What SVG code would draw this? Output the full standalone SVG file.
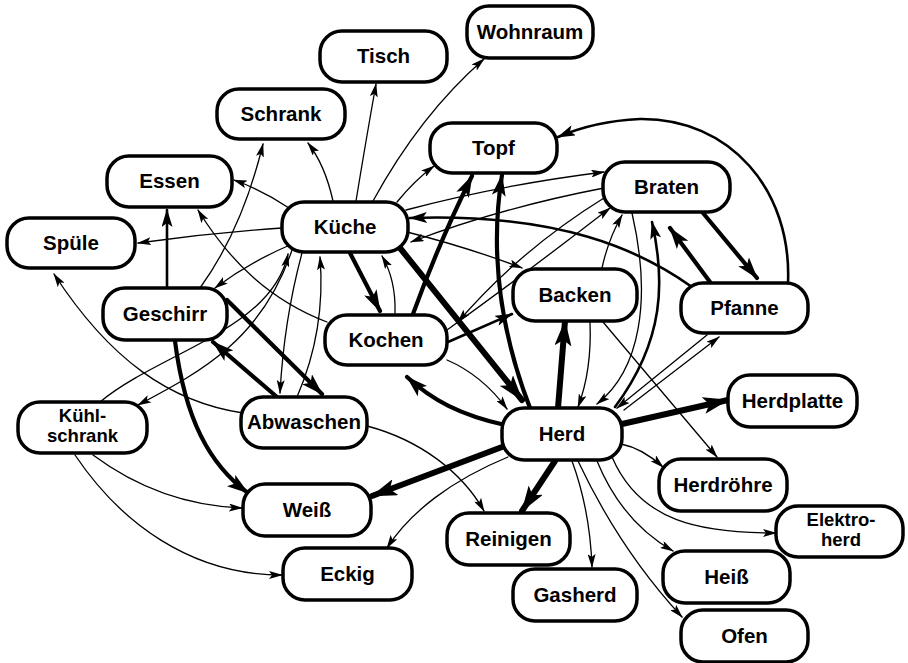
<svg xmlns="http://www.w3.org/2000/svg" width="908" height="663" viewBox="0 0 908 663">
  <style>
    .node rect { fill: #ffffff; stroke: #000000; stroke-width: 3.5; }
    .node text { font-family: "Liberation Sans", Arial, sans-serif; font-weight: bold; font-size: 20.5px; fill: #000000; text-anchor: middle; }
    .node text.two { font-size: 18.5px; }
    .e { fill: none; stroke: #000000; stroke-linecap: round; }
    .t1 { stroke-width: 1.3; marker-end: url(#a1); }
    .t2 { stroke-width: 2.6; marker-end: url(#a2); }
    .t3 { stroke-width: 4.2; marker-end: url(#a3); }
    .t4 { stroke-width: 6; marker-end: url(#a4); }
  </style>
  <defs>
    <marker id="a1" viewBox="0 0 14 8" refX="13" refY="4" markerWidth="14" markerHeight="8" markerUnits="userSpaceOnUse" orient="auto">
      <path d="M0,0 L14,4 L0,8 L3,4 z" fill="#000"/>
    </marker>
    <marker id="a2" viewBox="0 0 18 11" refX="17" refY="5.5" markerWidth="18" markerHeight="11" markerUnits="userSpaceOnUse" orient="auto">
      <path d="M0,0 L18,5.5 L0,11 L4,5.5 z" fill="#000"/>
    </marker>
    <marker id="a3" viewBox="0 0 22 14" refX="21" refY="7" markerWidth="22" markerHeight="14" markerUnits="userSpaceOnUse" orient="auto">
      <path d="M0,0 L22,7 L0,14 L5,7 z" fill="#000"/>
    </marker>
    <marker id="a4" viewBox="0 0 26 17" refX="25" refY="8.5" markerWidth="26" markerHeight="17" markerUnits="userSpaceOnUse" orient="auto">
      <path d="M0,0 L26,8.5 L0,17 L6,8.5 z" fill="#000"/>
    </marker>
  </defs>

  <!-- connectors -->
  <g id="connectors">
    <!-- Küche -->
    <path class="e t1" d="M356,201 Q366,140 376,84"/>
    <path class="e t1" d="M333,201 Q325,165 308,143"/>
    <path class="e t1" d="M373,201 Q420,115 484,59"/>
    <path class="e t1" d="M289,208 Q262,190 234,180"/>
    <path class="e t1" d="M282,228 Q210,233 138,243"/>
    <path class="e t1" d="M397,202 Q415,180 434,166"/>
    <path class="e t1" d="M406,210 Q500,185 604,172"/>
    <path class="e t2" d="M692,287 C640,250 560,213 410,218"/>
    <path class="e t1" d="M604,188 Q500,208 411,242"/>
    <path class="e t1" d="M407,232 Q470,248 522,268"/>
    <path class="e t1" d="M290,245 Q250,262 215,288"/>
    <path class="e t1" d="M292,250 C262,340 200,372 138,405"/>
    <path class="e t1" d="M100,402 C160,352 272,330 288,254"/>
    <path class="e t1" d="M302,253 Q284,320 280,393"/>
    <path class="e t1" d="M297,397 Q326,330 320,257"/>
    <path class="e t3" d="M350,253 L380,311"/>
    <path class="e t1" d="M395,313 Q396,280 382,256"/>
    <path class="e t4" d="M400,248 L522,400"/>
    <!-- Essen / Geschirr / Abwaschen -->
    <path class="e t2" d="M167,288 L167,210"/>
    <path class="e t1" d="M327,322 C270,300 230,262 198,210"/>
    <path class="e t1" d="M200,288 Q242,230 263,144"/>
    <path class="e t1" d="M243,413 C170,402 110,360 54,274"/>
    <path class="e t3" d="M277,397 L213,342"/>
    <path class="e t3" d="M227,300 L322,394"/>
    <path class="e t3" d="M175,341 C185,420 210,465 248,493"/>
    <path class="e t1" d="M93,455 C140,490 190,506 242,508"/>
    <path class="e t1" d="M75,455 C120,522 190,575 282,575"/>
    <path class="e t1" d="M367,426 C420,440 462,472 484,511"/>
    <!-- Herd outgoing -->
    <path class="e t4" d="M502,447 L372,496"/>
    <path class="e t1" d="M508,457 C452,480 410,512 387,548"/>
    <path class="e t4" d="M555,461 L522,511"/>
    <path class="e t1" d="M572,461 Q590,510 592,567"/>
    <path class="e t1" d="M578,461 Q620,550 682,617"/>
    <path class="e t1" d="M597,461 Q622,522 673,551"/>
    <path class="e t1" d="M612,457 C640,522 700,533 776,533"/>
    <path class="e t1" d="M621,444 Q642,448 663,467"/>
    <path class="e t4" d="M622,424 L728,400"/>
    <path class="e t1" d="M624,410 L719,337"/>
    <path class="e t1" d="M707,335 L617,408"/>
    <path class="e t4" d="M558,408 L565,321"/>
    <path class="e t1" d="M590,322 Q592,370 578,407"/>
    <path class="e t3" d="M530,408 C500,330 490,250 502,175"/>
    <path class="e t3" d="M505,425 C460,415 432,400 407,377"/>
    <path class="e t1" d="M447,360 Q482,375 507,409"/>
    <!-- Backen / Braten / Pfanne -->
    <path class="e t1" d="M603,322 L717,457"/>
    <path class="e t1" d="M632,213 C652,300 640,370 597,404"/>
    <path class="e t2" d="M615,407 C665,340 665,280 652,222"/>
    <path class="e t1" d="M602,268 Q608,240 622,215"/>
    <path class="e t3" d="M710,282 L670,228"/>
    <path class="e t3" d="M703,213 L757,278"/>
    <path class="e t2" d="M788,283 C792,190 730,118 640,119 Q595,121 558,137"/>
    <!-- Kochen -->
    <path class="e t2" d="M448,342 L512,314"/>
    <path class="e t3" d="M413,314 Q440,240 472,176"/>
    <path class="e t1" d="M604,198 Q520,250 458,322"/>
    <path class="e t1" d="M447,330 Q530,270 610,208"/>
  </g>

  <!-- nodes -->
  <g id="n-tisch" class="node"><rect x="320" y="31" width="127" height="51" rx="22"/><text x="383.5" y="63">Tisch</text></g>
  <g id="n-wohnraum" class="node"><rect x="467" y="6" width="126" height="52" rx="22"/><text x="530" y="39">Wohnraum</text></g>
  <g id="n-schrank" class="node"><rect x="217" y="89" width="128" height="50" rx="22"/><text x="281" y="121">Schrank</text></g>
  <g id="n-essen" class="node"><rect x="107" y="156" width="125" height="51" rx="22"/><text x="169.5" y="188">Essen</text></g>
  <g id="n-topf" class="node"><rect x="430" y="123" width="127" height="50" rx="22"/><text x="493.5" y="155">Topf</text></g>
  <g id="n-braten" class="node"><rect x="603" y="162" width="127" height="50" rx="22"/><text x="666.5" y="194">Braten</text></g>
  <g id="n-kueche" class="node"><rect x="282" y="202" width="126" height="50" rx="22"/><text x="345" y="234">Küche</text></g>
  <g id="n-spuele" class="node"><rect x="7" y="218" width="128" height="50" rx="22"/><text x="71" y="250">Spüle</text></g>
  <g id="n-geschirr" class="node"><rect x="103" y="288" width="124" height="52" rx="22"/><text x="165" y="321">Geschirr</text></g>
  <g id="n-kochen" class="node"><rect x="325" y="315" width="122" height="50" rx="22"/><text x="386" y="347">Kochen</text></g>
  <g id="n-backen" class="node"><rect x="513" y="269" width="124" height="52" rx="22"/><text x="575" y="302">Backen</text></g>
  <g id="n-pfanne" class="node"><rect x="681" y="283" width="127" height="50" rx="22"/><text x="744.5" y="315">Pfanne</text></g>
  <g id="n-kuehlschrank" class="node"><rect x="18" y="402" width="129" height="51" rx="22"/><text class="two" x="82.5" y="422">Kühl-</text><text class="two" x="82.5" y="442">schrank</text></g>
  <g id="n-abwaschen" class="node"><rect x="241" y="397" width="126" height="51" rx="22"/><text x="304" y="429">Abwaschen</text></g>
  <g id="n-herd" class="node"><rect x="502" y="408" width="120" height="52" rx="22"/><text x="562" y="441">Herd</text></g>
  <g id="n-herdplatte" class="node"><rect x="728" y="375" width="129" height="52" rx="22"/><text x="792.5" y="408">Herdplatte</text></g>
  <g id="n-herdroehre" class="node"><rect x="659" y="459" width="128" height="52" rx="22"/><text x="723" y="492">Herdröhre</text></g>
  <g id="n-elektroherd" class="node"><rect x="776" y="506" width="127" height="51" rx="22"/><text class="two" x="841" y="526">Elektro-</text><text class="two" x="841" y="546">herd</text></g>
  <g id="n-weiss" class="node"><rect x="243" y="484" width="128" height="52" rx="22"/><text x="307" y="517">Weiß</text></g>
  <g id="n-reinigen" class="node"><rect x="447" y="513" width="123" height="52" rx="22"/><text x="508.5" y="546">Reinigen</text></g>
  <g id="n-eckig" class="node"><rect x="283" y="548" width="129" height="52" rx="22"/><text x="347.5" y="581">Eckig</text></g>
  <g id="n-heiss" class="node"><rect x="663" y="551" width="127" height="52" rx="22"/><text x="726.5" y="584">Heiß</text></g>
  <g id="n-gasherd" class="node"><rect x="513" y="569" width="124" height="52" rx="22"/><text x="575" y="602">Gasherd</text></g>
  <g id="n-ofen" class="node"><rect x="681" y="610" width="127" height="52" rx="22"/><text x="744.5" y="643">Ofen</text></g>
</svg>
